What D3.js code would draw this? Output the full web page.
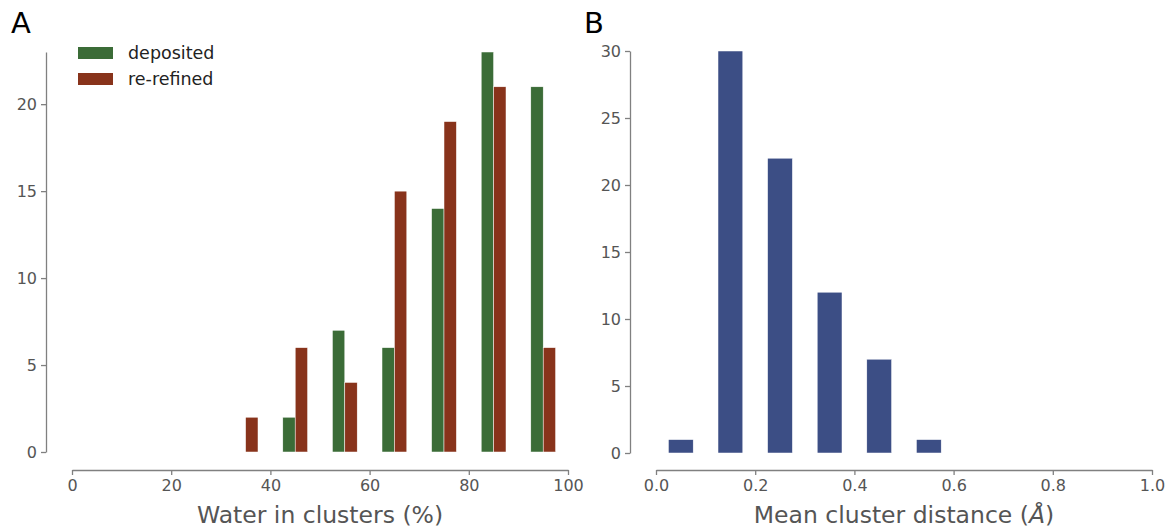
<!DOCTYPE html>
<html>
<head>
<meta charset="utf-8">
<script src="https://cdn.jsdelivr.net/npm/d3@7"></script>
<style>
  body { margin: 0; background: #fff; }
  svg { font-family: "DejaVu Sans", sans-serif; }
  .axis path, .axis line { stroke: #808080; stroke-width: 1.3; }
</style>
</head>
<body>
<div id="chart"></div>
<script>
// panel A: water in clusters (%), bins of width 10
var binStartsA = [30, 40, 50, 60, 70, 80, 90];
var deposited = [0, 2, 7, 6, 14, 23, 21];
var reRefined = [2, 6, 4, 15, 19, 21, 6];
var seriesNames = ["deposited", "re-refined"];
var xTicksA = [0, 20, 40, 60, 80, 100];
var yTicksA = [0, 5, 10, 15, 20];

// panel B: mean cluster distance, bins of width 0.1
var binStartsB = [0.0, 0.1, 0.2, 0.3, 0.4, 0.5];
var meanDist = [1, 30, 22, 12, 7, 1];
var xTicksB = [0.0, 0.2, 0.4, 0.6, 0.8, 1.0];
var yTicksB = [0, 5, 10, 15, 20, 25, 30];

var colors = {green: "#3b6c37", red: "#88331b", blue: "#3c4e85"};

var svg = d3.select("#chart")
    .append("svg")
    .attr("width", 1176)
    .attr("height", 531);

function styleAxis(g) {
    g.attr("font-family", "DejaVu Sans, sans-serif")
        .attr("font-size", 16);
    g.selectAll("text").attr("fill", "#555");
}

/*
    Panel A
*/
var xA = d3.scaleLinear().domain([0, 100]).range([72, 568]);
var yA = d3.scaleLinear().domain([0, 23]).range([452, 52]);
var binW = 10;
var barW = 2.5; // rwidth 0.5 split over two series

var gA = svg.append("g");

gA.selectAll("rect.dep")
    .data(binStartsA)
    .enter().append("rect")
    .attr("class", "dep")
    .attr("x", function(d) { return xA(d + binW / 2 - barW); })
    .attr("width", function(d) { return xA(barW) - xA(0); })
    .attr("y", function(d, i) { return yA(deposited[i]); })
    .attr("height", function(d, i) { return yA(0) - yA(deposited[i]); })
    .attr("fill", colors.green)
    .attr("stroke", "#fff")
    .attr("stroke-width", 0.5);

gA.selectAll("rect.ref")
    .data(binStartsA)
    .enter().append("rect")
    .attr("class", "ref")
    .attr("x", function(d) { return xA(d + binW / 2); })
    .attr("width", function(d) { return xA(barW) - xA(0); })
    .attr("y", function(d, i) { return yA(reRefined[i]); })
    .attr("height", function(d, i) { return yA(0) - yA(reRefined[i]); })
    .attr("fill", colors.red)
    .attr("stroke", "#fff")
    .attr("stroke-width", 0.5);

gA.append("g")
    .attr("class", "axis")
    .attr("transform", "translate(46,0)")
    .call(d3.axisLeft(yA).tickValues(yTicksA).tickSize(5).tickSizeOuter(0).tickPadding(4))
    .call(styleAxis);

gA.append("g")
    .attr("class", "axis")
    .attr("transform", "translate(0,470)")
    .call(d3.axisBottom(xA).tickValues(xTicksA).tickSize(5).tickSizeOuter(0).tickPadding(5))
    .call(styleAxis);

gA.append("text")
    .attr("x", xA(50))
    .attr("y", 523)
    .attr("text-anchor", "middle")
    .attr("fill", "#555")
    .attr("font-size", "23.5px")
    .text("Water in clusters (%)");

// legend
var legend = gA.selectAll("g.legend")
    .data(seriesNames)
    .enter().append("g")
    .attr("class", "legend")
    .attr("transform", function(d, i) { return "translate(78," + (47 + i * 26) + ")"; });

legend.append("rect")
    .attr("width", 35)
    .attr("height", 12)
    .attr("fill", function(d, i) { return i == 0 ? colors.green : colors.red; });

legend.append("text")
    .attr("x", 50)
    .attr("y", 12)
    .attr("font-size", "17.5px")
    .attr("fill", "#222")
    .text(function(d) { return d; });

svg.append("text")
    .attr("x", 11)
    .attr("y", 33)
    .attr("font-size", "29px")
    .attr("fill", "#000")
    .text("A");

/*
    Panel B
*/
var xB = d3.scaleLinear().domain([0, 1]).range([656, 1152]);
var yB = d3.scaleLinear().domain([0, 30]).range([453, 51]);
var binWB = 0.1;
var barWB = 0.05;

var gB = svg.append("g");

gB.selectAll("rect.dist")
    .data(binStartsB)
    .enter().append("rect")
    .attr("class", "dist")
    .attr("x", function(d) { return xB(d + (binWB - barWB) / 2); })
    .attr("width", function(d) { return xB(barWB) - xB(0); })
    .attr("y", function(d, i) { return yB(meanDist[i]); })
    .attr("height", function(d, i) { return yB(0) - yB(meanDist[i]); })
    .attr("fill", colors.blue)
    .attr("stroke", "#fff")
    .attr("stroke-width", 0.5);

gB.append("g")
    .attr("class", "axis")
    .attr("transform", "translate(630,0)")
    .call(d3.axisLeft(yB).tickValues(yTicksB).tickSize(5).tickSizeOuter(0).tickPadding(4))
    .call(styleAxis);

gB.append("g")
    .attr("class", "axis")
    .attr("transform", "translate(0,470)")
    .call(d3.axisBottom(xB).tickValues(xTicksB).tickFormat(d3.format(".1f")).tickSize(5).tickSizeOuter(0).tickPadding(5))
    .call(styleAxis);

var labB = gB.append("text")
    .attr("x", xB(0.5))
    .attr("y", 523)
    .attr("text-anchor", "middle")
    .attr("fill", "#555")
    .attr("font-size", "23.5px");
labB.append("tspan").text("Mean cluster distance (");
labB.append("tspan").attr("font-style", "italic").text("Å");
labB.append("tspan").text(")");

svg.append("text")
    .attr("x", 584)
    .attr("y", 33)
    .attr("font-size", "29px")
    .attr("fill", "#000")
    .text("B");
</script>
</body>
</html>
